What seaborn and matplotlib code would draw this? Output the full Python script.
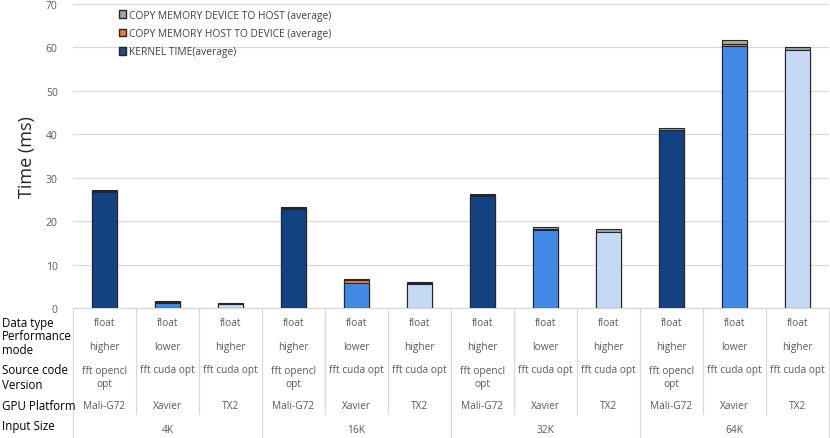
import matplotlib
matplotlib.use("Agg")
import matplotlib.pyplot as plt
from matplotlib.patches import Patch
import seaborn as sns
import pandas as pd

input_sizes = ["4K", "16K", "32K", "64K"]
platforms = ["Mali-G72", "Xavier", "TX2"]
data_types = ["float", "float", "float"]
perf_modes = ["higher", "lower", "higher"]
source_code = ["fft opencl\nopt", "fft cuda opt", "fft cuda opt"]

# values in ms, one per bar (4K..64K x Mali, Xavier, TX2)
kernel_time = [26.8, 1.2, 0.9, 22.9, 5.7, 5.6, 25.9, 17.9, 17.5, 41.0, 60.3, 59.4]
h2d_time = [0.05, 0.1, 0.05, 0.05, 0.7, 0.05, 0.05, 0.3, 0.05, 0.05, 0.4, 0.05]
d2h_time = [0.3, 0.4, 0.3, 0.3, 0.3, 0.4, 0.3, 0.5, 0.6, 0.3, 1.1, 0.7]

platform_colors = {"Mali-G72": "#134283", "Xavier": "#4189e2", "TX2": "#c5d9f4"}

rows = []
for i, size in enumerate(input_sizes):
    for j, plat in enumerate(platforms):
        k = i * 3 + j
        rows.append({
            "bar": f"{size} {plat}",
            "platform": plat,
            "kernel": kernel_time[k],
            "h2d": kernel_time[k] + h2d_time[k],
            "total": kernel_time[k] + h2d_time[k] + d2h_time[k],
        })
df = pd.DataFrame(rows)
order = list(df["bar"])

sns.set_style("white")
plt.rcParams["font.family"] = ["Open Sans", "DejaVu Sans"]

fig = plt.figure(figsize=(8.3, 4.39), dpi=100)
W, H = 830, 439
left, right, top, bottom = 73, 829, 5, 309
ax = fig.add_axes([left / W, 1 - bottom / H, (right - left) / W, (bottom - top) / H])

bw = 0.41
sns.barplot(data=df, x="bar", y="total", order=order, color="#a5a5a5", saturation=1,
            edgecolor="#262626", linewidth=0.8, width=bw, ax=ax, zorder=3)
sns.barplot(data=df, x="bar", y="h2d", order=order, color="#ed7d31", saturation=1,
            edgecolor="#262626", linewidth=0.8, width=bw, ax=ax, zorder=4)
sns.barplot(data=df, x="bar", y="kernel", order=order, hue="platform", saturation=1,
            palette=platform_colors, dodge=False, legend=False,
            edgecolor="#262626", linewidth=0.8, width=bw, ax=ax, zorder=5)

ax.set_xlim(-0.5, len(order) - 0.5)
ax.set_ylim(0, 70)
ax.set_yticks(range(0, 71, 10))
ax.tick_params(axis="y", length=0, labelsize=7.5, labelcolor="#595959", pad=11)
ax.set_xticks([])
ax.set_xlabel("")
ax.set_ylabel("Time (ms)", fontsize=13, labelpad=7)
ax.grid(axis="y", color="#d9d9d9", linewidth=0.9, zorder=0)
for s in ["left", "right", "top"]:
    ax.spines[s].set_visible(False)
ax.spines["bottom"].set_color("#d9d9d9")
ax.spines["bottom"].set_linewidth(0.9)

handles = [
    Patch(facecolor="#a5a5a5", edgecolor="#262626", label="COPY MEMORY DEVICE TO HOST (average)"),
    Patch(facecolor="#ed7d31", edgecolor="#262626", label="COPY MEMORY HOST TO DEVICE (average)"),
    Patch(facecolor="#1f4e79", edgecolor="#262626", label="KERNEL TIME(average)"),
]
ax.legend(handles=handles, loc="upper left", bbox_to_anchor=(0.055, 0.995), frameon=False,
          fontsize=7.4, labelcolor="#404040", handlelength=0.75, handleheight=0.75,
          handletextpad=0.25, labelspacing=0.72, borderaxespad=0.0)

# table under the bars
def ay(py):
    return (bottom - py) / (bottom - top)

tr = ax.get_xaxis_transform()
cell_kw = dict(transform=tr, ha="center", va="center", fontsize=7.3, color="#595959",
               clip_on=False, linespacing=1.3)
for k in range(len(order)):
    j = k % 3
    ax.text(k, ay(324), data_types[j], **cell_kw)
    ax.text(k, ay(348), perf_modes[j], **cell_kw)
    ax.text(k, ay(371) if j else ay(378), source_code[j], **cell_kw)
    ax.text(k, ay(407), platforms[j], **cell_kw)
for i, size in enumerate(input_sizes):
    ax.text(i * 3 + 1, ay(431), size, **cell_kw)

# vertical grid lines of the table
for b in range(len(order) + 1):
    x = b - 0.5
    end = 439 if b % 3 == 0 else 415
    ax.plot([x, x], [ay(309), ay(end)], transform=tr, color="#d9d9d9",
            linewidth=0.9, clip_on=False)

row_kw = dict(ha="left", va="center", fontsize=8.3, color="black")
fig.text(2 / W, 1 - 323 / H, "Data type", **row_kw)
fig.text(2 / W, 1 - 337 / H, "Performance", **row_kw)
fig.text(2 / W, 1 - 351 / H, "mode", **row_kw)
fig.text(2 / W, 1 - 370 / H, "Source code", **row_kw)
fig.text(2 / W, 1 - 386 / H, "Version", **row_kw)
fig.text(2 / W, 1 - 407 / H, "GPU Platform", **row_kw)
fig.text(2 / W, 1 - 427 / H, "Input Size", **row_kw)

fig.savefig("out.png", dpi=100)
